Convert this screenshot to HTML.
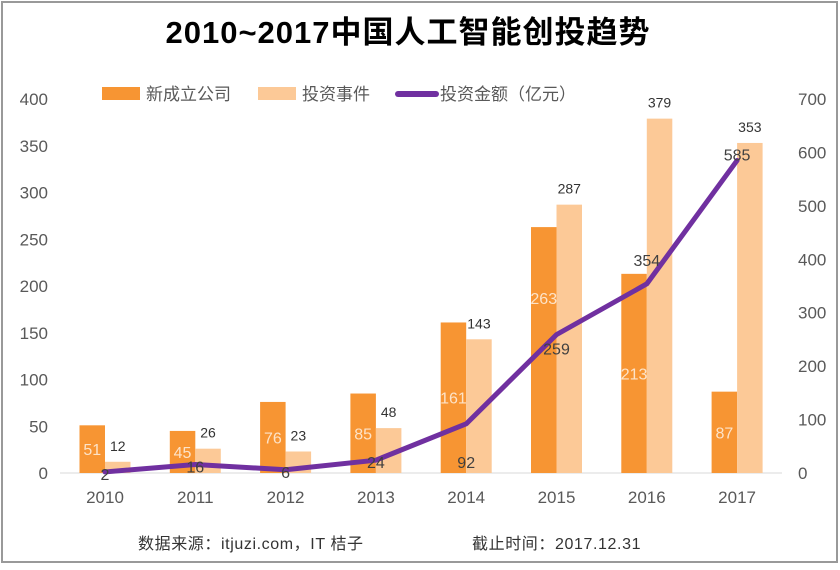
<!DOCTYPE html>
<html><head><meta charset="utf-8"><style>
body{margin:0;background:#fff;}
svg text{font-family:"Liberation Sans","Noto Sans CJK SC",sans-serif;}
</style></head><body>
<svg width="840" height="565" xmlns="http://www.w3.org/2000/svg">
<rect x="2" y="2" width="835" height="560" fill="#fff" stroke="#999" stroke-width="2"/>
<text x="408" y="43" text-anchor="middle" font-size="31" font-weight="bold" letter-spacing="1" fill="#000">2010~2017中国人工智能创投趋势</text>
<g id="legend">
<rect x="102" y="87" width="38" height="13" fill="#f79533"/>
<text x="146" y="100" font-size="17" fill="#595959">新成立公司</text>
<rect x="258" y="87" width="38" height="13" fill="#fcc997"/>
<text x="302" y="100" font-size="17" fill="#595959">投资事件</text>
<line x1="398" y1="94" x2="436" y2="94" stroke="#7030a0" stroke-width="6" stroke-linecap="round"/>
<text x="440" y="100" font-size="17" fill="#595959">投资金额（亿元）</text>
</g>
<g id="axes"></g>
<g id="bars"></g>
<g id="line"></g>
<text x="138" y="549" font-size="16" letter-spacing="0.6" fill="#333">数据来源：itjuzi.com，IT 桔子</text>
<text x="472" y="549" font-size="16" letter-spacing="0.6" fill="#333">截止时间：2017.12.31</text>
</svg>
<script>
const categories=["2010","2011","2012","2013","2014","2015","2016","2017"];
const newCompanies=[51,45,76,85,161,263,213,87];
const investments=[12,26,23,48,143,287,379,353];
const amounts=[2,16,6,24,92,259,354,585];
const leftTicks=[0,50,100,150,200,250,300,350,400];
const rightTicks=[0,100,200,300,400,500,600,700];
const NS="http://www.w3.org/2000/svg";
const y0=473,yTop=99;
const yL=v=>y0-(y0-yTop)*v/400;
const yR=v=>y0-(y0-yTop)*v/700;
const xC=i=>105+i*90.3;
const bw=25.5;
function mk(tag,attrs,parent,text){const e=document.createElementNS(NS,tag);for(const k in attrs)e.setAttribute(k,attrs[k]);if(text!==undefined)e.textContent=text;document.getElementById(parent).appendChild(e);return e;}
mk('line',{x1:60,y1:y0,x2:782,y2:y0,stroke:'#d9d9d9','stroke-width':1},'axes');
leftTicks.forEach(t=>{const e=mk('text',{x:48,y:yL(t)+6,'text-anchor':'end','font-size':17,fill:'#595959'},'axes',t);

});
rightTicks.forEach(t=>{const e=mk('text',{x:798,y:yR(t)+6,'font-size':17,fill:'#595959'},'axes',t);

});
categories.forEach((c,i)=>{const e=mk('text',{x:xC(i),y:503,'text-anchor':'middle','font-size':17,fill:'#595959'},'axes',c);


const b1=mk('rect',{x:xC(i)-bw,y:yL(newCompanies[i]),width:bw,height:y0-yL(newCompanies[i]),fill:'#f79533'},'bars');


const b2=mk('rect',{x:xC(i),y:yL(investments[i]),width:bw,height:y0-yL(investments[i]),fill:'#fcc997'},'bars');


const mid=(yL(newCompanies[i])+y0)/2;
const ly=newCompanies[i]>240?yL(newCompanies[i])+77:mid+6;
const l1=mk('text',{x:xC(i)-bw/2,y:ly,'text-anchor':'middle','font-size':16,fill:'#fde3c8'},'bars',newCompanies[i]);


const l2=mk('text',{x:xC(i)+bw/2,y:yL(investments[i])-11,'text-anchor':'middle','font-size':14,fill:'#333'},'bars',investments[i]);

});
const pts=amounts.map((v,i)=>xC(i)+','+yR(v)).join(' ');
const pl=mk('polyline',{points:pts,fill:'none',stroke:'#7030a0','stroke-width':5,'stroke-linejoin':'round','stroke-linecap':'round'},'line');


amounts.forEach((v,i)=>{let dy;if(i<4)dy=8;else if(i===4)dy=44;else if(i===5)dy=20;else if(i===6)dy=-18;else dy=0;
const e=mk('text',{x:xC(i),y:yR(v)+dy,'text-anchor':'middle','font-size':16,fill:'#404040'},'line',v);

});
</script>
</body></html>
